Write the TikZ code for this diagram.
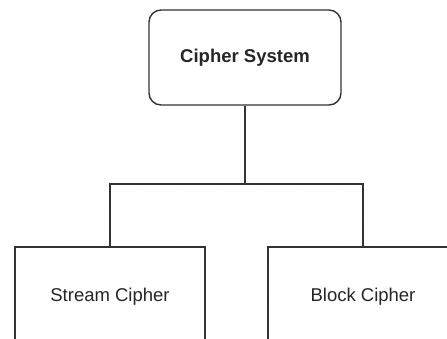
\documentclass[tikz,border=0pt]{standalone}
\usepackage{fontspec}
\setmainfont{Liberation Sans}
\begin{document}
\begin{tikzpicture}[x=1pt,y=-1pt,
  linecol/.style={draw=black!80, line width=1.4pt},
  topbox/.style={linecol, fill=white, rounded corners=12pt, minimum width=192pt, minimum height=95pt, inner sep=0pt, font=\fontsize{18.5}{22}\selectfont\bfseries, text=black!85},
  leafbox/.style={linecol, fill=white, minimum width=190pt, minimum height=104pt, inner sep=0pt, font=\fontsize{18.5}{22}\selectfont, text=black!85}]
  \useasboundingbox (0,0) rectangle (447,338);
  \clip (0,0) rectangle (447,338);
  % faint drawing-grid dots
  \foreach \gx in {5,15,...,445} \foreach \gy in {5,15,...,335}
    \fill[black!7] (\gx,\gy) circle (0.6pt);
  % boxes (leaf boxes run past the lower edge)
  \node[topbox] (sys) at (245,57.5) {Cipher System};
  \node[leafbox] (stream) at (110,299) {\raisebox{9pt}{Stream Cipher}};
  \node[leafbox] (block) at (363,299) {\raisebox{9pt}{Block Cipher}};
  % tree connectors
  \coordinate (junc) at (245,184);
  \draw[linecol] (sys.south) -- (junc);
  \draw[linecol] (stream.north) |- (junc) -| (block.north);
\end{tikzpicture}
\end{document}
